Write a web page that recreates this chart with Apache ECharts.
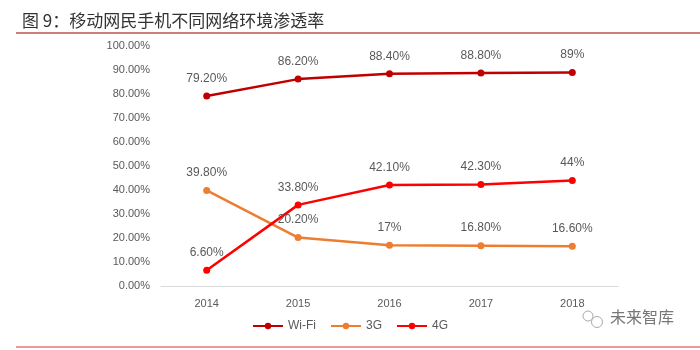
<!DOCTYPE html>
<html><head><meta charset="utf-8">
<script src="https://cdn.jsdelivr.net/npm/echarts@6/dist/echarts.min.js"></script>
<style>html,body{margin:0;padding:0;background:#fff}#c{width:700px;height:350px}</style>
</head><body><div id="c"></div>
<script>
const categories = ['2014','2015','2016','2017','2018'];
const wifi = [79.2, 86.2, 88.4, 88.8, 89];
const g3 = [39.8, 20.2, 17, 16.8, 16.6];
const g4 = [6.6, 33.8, 42.1, 42.3, 44];
const wifiLabels = ['79.20%','86.20%','88.40%','88.80%','89%'];
const g3Labels = ['39.80%','20.20%','17%','16.80%','16.60%'];
const g4Labels = ['6.60%','33.80%','42.10%','42.30%','44%'];
const titleText = '图 9：移动网民手机不同网络环境渗透率';

const chart = echarts.init(document.getElementById('c'));
const F = 'Liberation Sans, Arial';
function mk(name, data, labels, color) {
  return {
    name, type: 'line', data, symbol: 'circle', symbolSize: 7,
    lineStyle: {color, width: 2.5}, itemStyle: {color},
    label: {show: true, position: 'top', distance: 8, color: '#595959', fontSize: 12,
      fontFamily: F, formatter: p => labels[p.dataIndex]},
    z: 3
  };
}
chart.setOption({
  animation: false,
  title: {text: titleText, left: 17, top: 7,
    textStyle: {fontSize: 17, fontWeight: 'normal', color: '#333', fontFamily: 'Noto Sans CJK SC'}},
  grid: {left: 161, right: 82, top: 46, bottom: 64},
  legend: {bottom: 13, left: 'center', itemWidth: 30, itemHeight: 8, itemGap: 14,
    textStyle: {color: '#595959', fontSize: 12, fontFamily: F},
    data: ['Wi-Fi','3G','4G']},
  xAxis: {type: 'category', data: categories, boundaryGap: true,
    axisLine: {lineStyle: {color: '#d9d9d9'}}, axisTick: {show: false},
    axisLabel: {color: '#595959', fontSize: 11, margin: 12, fontFamily: F}},
  yAxis: {type: 'value', min: 0, max: 100, interval: 10,
    axisLine: {show: false}, axisTick: {show: false}, splitLine: {show: false},
    axisLabel: {color: '#595959', fontSize: 11, margin: 11, fontFamily: F,
      formatter: v => v.toFixed(2) + '%'}},
  series: [mk('Wi-Fi', wifi, wifiLabels, '#C00000'), mk('3G', g3, g3Labels, '#ED7D31'), mk('4G', g4, g4Labels, '#FF0000')],
  graphic: [
    {type: 'line', shape: {x1: 16, y1: 33, x2: 700, y2: 33}, style: {stroke: '#C0504D', lineWidth: 1.5}},
    {type: 'line', shape: {x1: 16, y1: 347, x2: 700, y2: 347}, style: {stroke: '#E03030', lineWidth: 1}},
    {type: 'text', left: 610, top: 309, style: {text: '未来智库', fill: '#777', fontSize: 16, fontFamily: 'Noto Sans CJK SC'}},
    {type: 'circle', shape: {cx: 588, cy: 316, r: 5}, style: {fill: 'none', stroke: '#aaa', lineWidth: 1}},
    {type: 'circle', shape: {cx: 597, cy: 322, r: 5.5}, style: {fill: 'none', stroke: '#aaa', lineWidth: 1}}
  ]
});
</script></body></html>
